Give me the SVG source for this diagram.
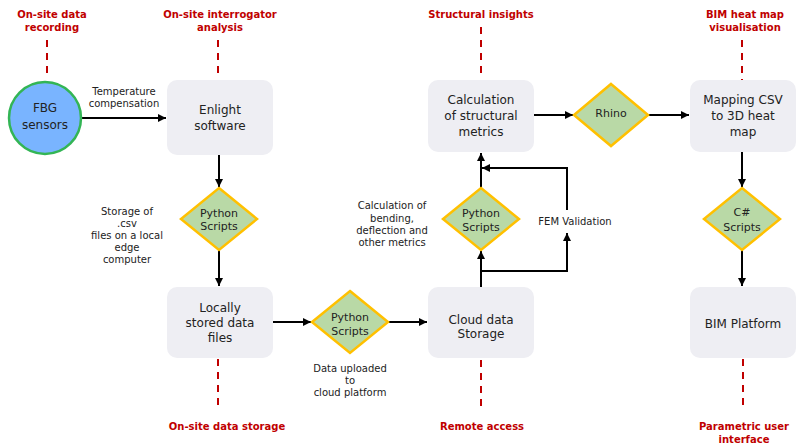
<svg xmlns="http://www.w3.org/2000/svg" width="798" height="445" viewBox="0 0 798 445">
<defs>
<marker id="ah" viewBox="0 0 10 10" refX="10" refY="5" markerWidth="4.2" markerHeight="4.2" markerUnits="strokeWidth" orient="auto">
<path d="M0,0 L10,5 L0,10 Z" fill="#000"/>
</marker>
</defs>
<style>
.box{fill:#EEEEF3;stroke:none}
.dia{fill:#B9D9A6;stroke:#FFC000;stroke-width:2.5}
.t{font-family:"DejaVu Sans",Verdana,sans-serif;font-size:12px;fill:#222;text-anchor:middle}
.d{font-family:"DejaVu Sans",Verdana,sans-serif;font-size:11px;fill:#222;text-anchor:middle}
.l{font-family:"DejaVu Sans",Verdana,sans-serif;font-size:10px;fill:#222;text-anchor:middle}
.r{font-family:"DejaVu Sans",Verdana,sans-serif;font-size:10px;font-weight:bold;fill:#C00000;text-anchor:middle}
.dash{stroke:#C00000;stroke-width:2;stroke-dasharray:7,6;fill:none}
.c{stroke:#000;stroke-width:2;fill:none}
.a{stroke:#000;stroke-width:2;fill:none;marker-end:url(#ah)}
</style>
<rect width="798" height="445" fill="#fff"/>

<g id="phase-labels">
<text class="r" x="52" y="18">On-site data</text>
<text class="r" x="52" y="31">recording</text>
<line class="dash" x1="47" y1="40" x2="47" y2="79"/>
<text class="r" x="220" y="18">On-site interrogator</text>
<text class="r" x="220" y="31">analysis</text>
<line class="dash" x1="218" y1="40" x2="218" y2="79"/>
<text class="r" x="481" y="18">Structural insights</text>
<line class="dash" x1="481" y1="27" x2="481" y2="79"/>
<text class="r" x="745" y="18">BIM heat map</text>
<text class="r" x="745" y="31">visualisation</text>
<line class="dash" x1="742" y1="40" x2="742" y2="83"/>
<line class="dash" x1="218" y1="359" x2="218" y2="411"/>
<text class="r" x="227" y="430">On-site data storage</text>
<line class="dash" x1="481" y1="360" x2="481" y2="412"/>
<text class="r" x="482" y="430">Remote access</text>
<line class="dash" x1="743" y1="359" x2="743" y2="411"/>
<text class="r" x="744" y="430">Parametric user</text>
<text class="r" x="744" y="443">interface</text>
</g>

<g id="connectors">
<line class="a" x1="82" y1="118" x2="166" y2="118"/>
<line class="a" x1="219" y1="155" x2="219" y2="187"/>
<line class="a" x1="219" y1="250" x2="219" y2="286"/>
<line class="a" x1="273" y1="322" x2="311" y2="322"/>
<line class="a" x1="389" y1="322" x2="427" y2="322"/>
<line class="a" x1="481" y1="287" x2="481" y2="251"/>
<polyline class="a" points="481,271 567,271 567,233"/>
<polyline class="a" points="567,210 567,168 482,168"/>
<line class="a" x1="481" y1="188" x2="481" y2="153"/>
<line class="a" x1="534" y1="115" x2="573" y2="115"/>
<line class="a" x1="648" y1="115" x2="689" y2="115"/>
<line class="a" x1="742" y1="152" x2="742" y2="187"/>
<line class="a" x1="742" y1="250" x2="742" y2="286"/>
<text class="l" x="124" y="95">Temperature</text>
<text class="l" x="124" y="107">compensation</text>
<text class="l" x="127" y="215">Storage of</text>
<text class="l" x="127" y="227">.csv</text>
<text class="l" x="127" y="239">files on a local</text>
<text class="l" x="127" y="251">edge</text>
<text class="l" x="127" y="263">computer</text>
<text class="l" x="350" y="372">Data uploaded</text>
<text class="l" x="350" y="384">to</text>
<text class="l" x="350" y="396">cloud platform</text>
<text class="l" x="392" y="209">Calculation of</text>
<text class="l" x="392" y="222">bending,</text>
<text class="l" x="392" y="234">deflection and</text>
<text class="l" x="392" y="246">other metrics</text>
<text class="l" x="575" y="225">FEM Validation</text>
</g>

<g id="fbg">
<circle cx="45" cy="118" r="36" fill="#79B4FF" stroke="#33B555" stroke-width="2.5"/>
<text class="t" x="45" y="112">FBG</text>
<text class="t" x="45" y="129">sensors</text>
</g>
<g id="enlight">
<rect class="box" x="167" y="80" width="106" height="75" rx="10"/>
<text class="t" x="220" y="114">Enlight</text>
<text class="t" x="220" y="130">software</text>
</g>
<g id="python1">
<polygon class="dia" points="219,188 257,219 219,250 181,219"/>
<text class="d" x="219" y="217">Python</text>
<text class="d" x="219" y="230">Scripts</text>
</g>
<g id="local">
<rect class="box" x="167" y="287" width="106" height="71" rx="10"/>
<text class="t" x="220" y="312">Locally</text>
<text class="t" x="220" y="327">stored data</text>
<text class="t" x="220" y="342">files</text>
</g>
<g id="python2">
<polygon class="dia" points="350,291 388,322 350,353 312,322"/>
<text class="d" x="350" y="321">Python</text>
<text class="d" x="350" y="335">Scripts</text>
</g>
<g id="cloud">
<rect class="box" x="428" y="287" width="106" height="71" rx="10"/>
<text class="t" x="481" y="324">Cloud data</text>
<text class="t" x="481" y="338">Storage</text>
</g>
<g id="python3">
<polygon class="dia" points="481,188 519,219 481,250 443,219"/>
<text class="d" x="481" y="217">Python</text>
<text class="d" x="481" y="231">Scripts</text>
</g>
<g id="calc">
<rect class="box" x="428" y="80" width="106" height="72" rx="10"/>
<text class="t" x="481" y="104">Calculation</text>
<text class="t" x="481" y="120">of structural</text>
<text class="t" x="481" y="136">metrics</text>
</g>
<g id="rhino">
<polygon class="dia" points="611,84 648,115 611,146 574,115"/>
<text class="d" x="611" y="117">Rhino</text>
</g>
<g id="mapping">
<rect class="box" x="690" y="80" width="106" height="72" rx="10"/>
<text class="t" x="743" y="104">Mapping CSV</text>
<text class="t" x="743" y="120">to 3D heat</text>
<text class="t" x="743" y="136">map</text>
</g>
<g id="csharp">
<polygon class="dia" points="742,188 780,219 742,250 704,219"/>
<text class="d" x="742" y="216">C#</text>
<text class="d" x="742" y="231">Scripts</text>
</g>
<g id="bim">
<rect class="box" x="690" y="287" width="106" height="71" rx="10"/>
<text class="t" x="743" y="328">BIM Platform</text>
</g>
</svg>
